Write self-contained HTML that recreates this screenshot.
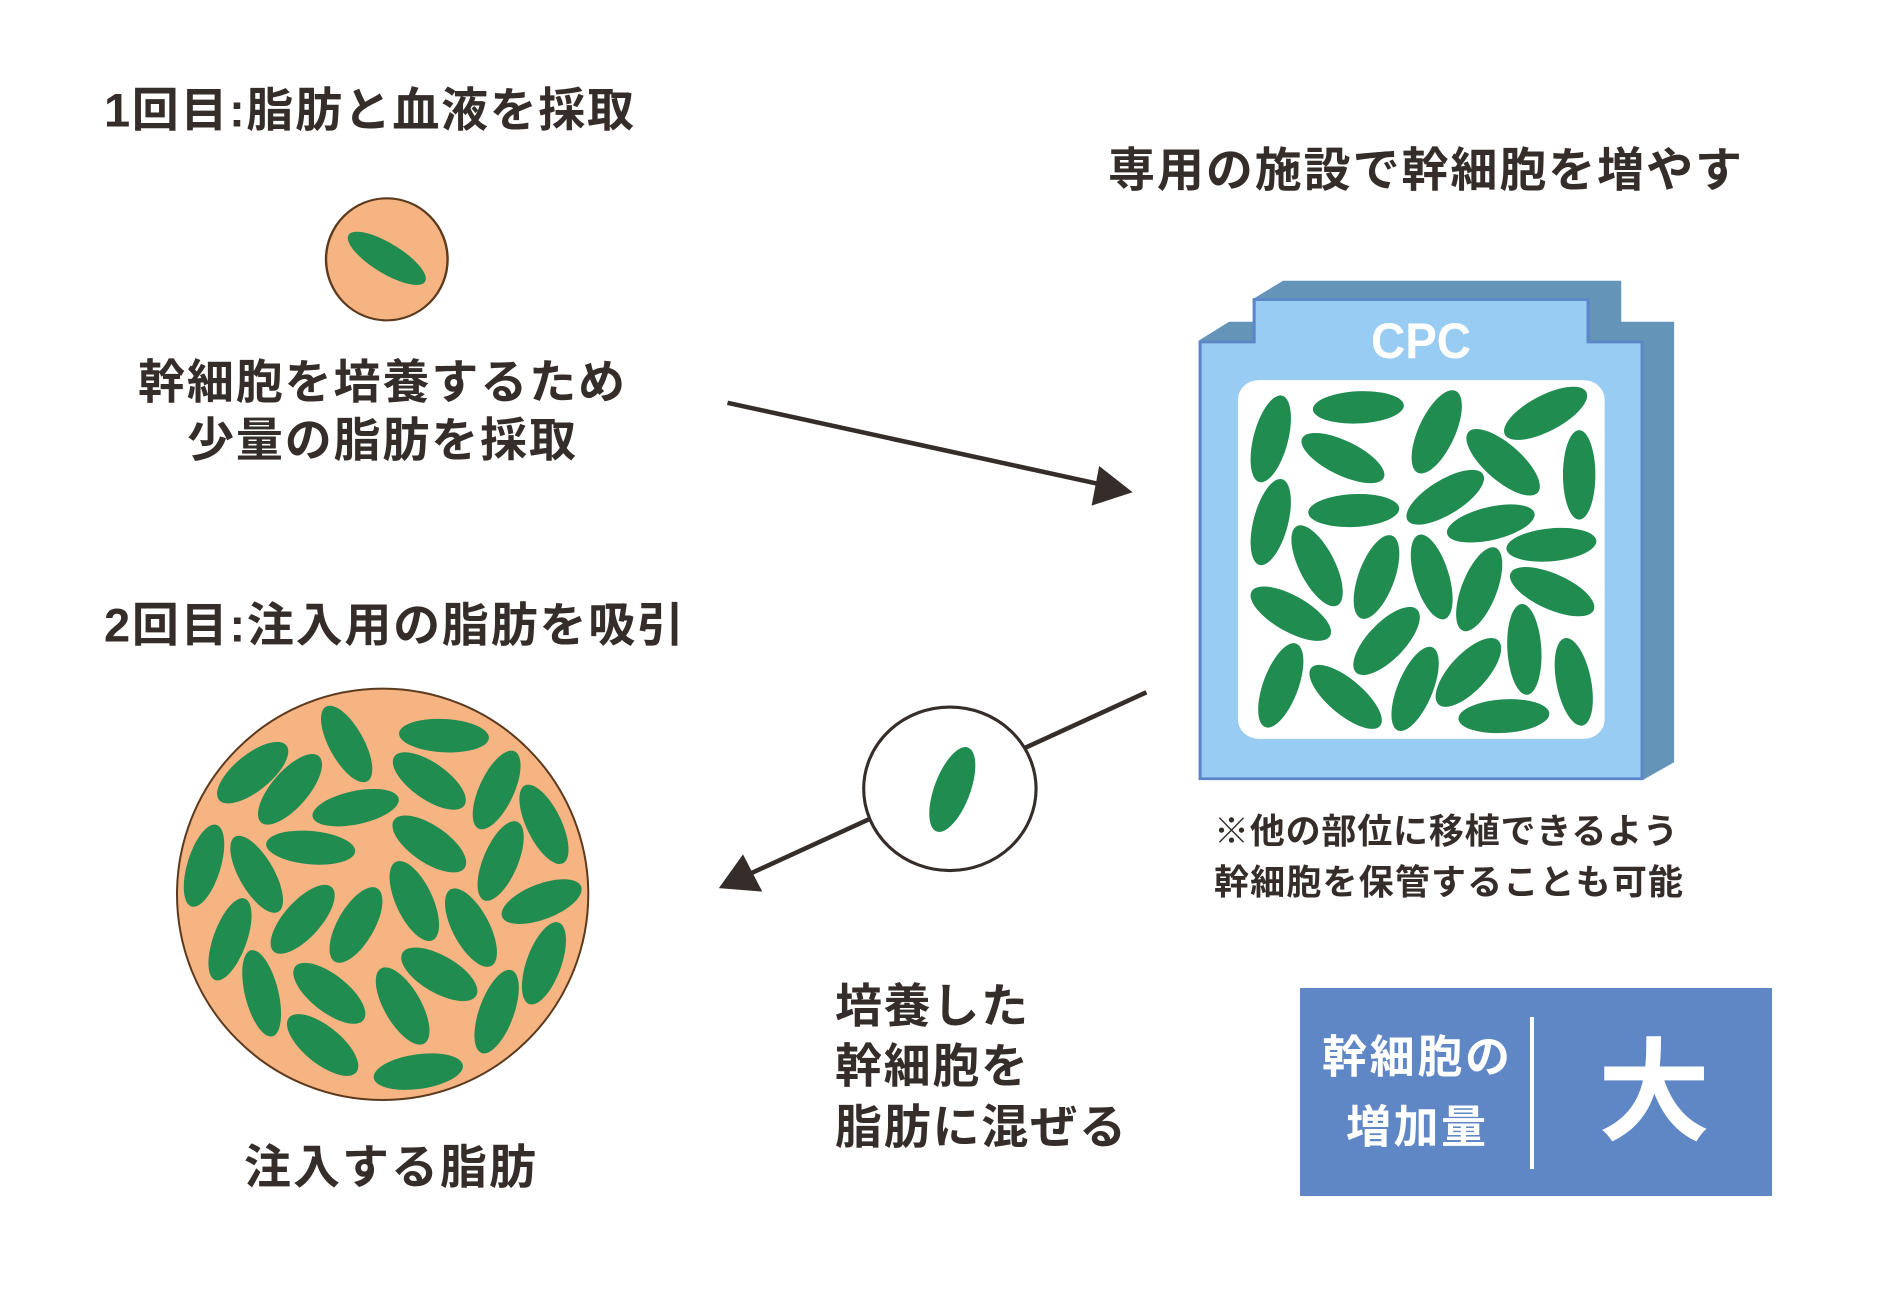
<!DOCTYPE html>
<html><head><meta charset="utf-8"><style>
html,body{margin:0;padding:0;background:#fff;}
svg{display:block;}
text{font-family:"Liberation Sans","Noto Sans CJK JP",sans-serif;font-weight:bold;}
</style></head><body>
<svg width="1900" height="1300" viewBox="0 0 1900 1300" xmlns="http://www.w3.org/2000/svg">
<rect width="1900" height="1300" fill="#fff"/>
<g fill="#352d2a" dominant-baseline="central">
<text x="104" y="110" font-size="47" textLength="530" lengthAdjust="spacing">1回目:脂肪と血液を採取</text>
<text x="1108" y="170" font-size="47" textLength="634" lengthAdjust="spacing">専用の施設で幹細胞を増やす</text>
<text x="138" y="382" font-size="47" textLength="487" lengthAdjust="spacing">幹細胞を培養するため</text>
<text x="187" y="440" font-size="47" textLength="389" lengthAdjust="spacing">少量の脂肪を採取</text>
<text x="104" y="625" font-size="47" textLength="580" lengthAdjust="spacing">2回目:注入用の脂肪を吸引</text>
<text x="244" y="1167" font-size="47" textLength="292" lengthAdjust="spacing">注入する脂肪</text>
<text x="835" y="1006" font-size="47" textLength="193" lengthAdjust="spacing">培養した</text>
<text x="835" y="1066" font-size="47" textLength="193" lengthAdjust="spacing">幹細胞を</text>
<text x="835" y="1127" font-size="47" textLength="291" lengthAdjust="spacing">脂肪に混ぜる</text>
<text x="1214" y="832" font-size="35" textLength="464" lengthAdjust="spacing">※他の部位に移植できるよう</text>
<text x="1214" y="883" font-size="35" textLength="469" lengthAdjust="spacing">幹細胞を保管することも可能</text>
</g>

<g transform="translate(80,60) scale(0.4,0.339)">
<ellipse cx="767" cy="588" rx="152" ry="180" fill="#f5b482" stroke="#5c3a1e" stroke-width="6"/>
<ellipse cx="0" cy="0" rx="118" ry="42" fill="#208c50" transform="translate(767,585) rotate(37)"/>
</g>

<g transform="translate(693,380) scale(0.3448,0.3509)">
<line x1="100" y1="65" x2="1185" y2="298" stroke="#352d2a" stroke-width="13"/>
<polygon points="1275,320 1178,245 1156,358" fill="#352d2a"/>
<line x1="1315" y1="890" x2="150" y2="1414" stroke="#352d2a" stroke-width="13"/>
<polygon points="75,1448 145,1352 201,1458" fill="#352d2a"/>
<ellipse cx="745" cy="1165" rx="250" ry="233" fill="#fff" stroke="#352d2a" stroke-width="9"/>
<ellipse cx="0" cy="0" rx="128" ry="52" fill="#208c50" transform="translate(752,1167) rotate(-69)"/>
</g>

<g transform="translate(150,660) scale(0.3333)" fill="#208c50">
<circle cx="698" cy="703" r="617" fill="#f5b482" stroke="#5c3a1e" stroke-width="6"/>
<ellipse rx="130" ry="55" transform="translate(308,338) rotate(-39)"/>
<ellipse rx="128" ry="52" transform="translate(590,252) rotate(61)"/>
<ellipse rx="135" ry="50" transform="translate(882,227) rotate(3)"/>
<ellipse rx="132" ry="55" transform="translate(420,388) rotate(-49)"/>
<ellipse rx="128" ry="55" transform="translate(838,363) rotate(35)"/>
<ellipse rx="128" ry="52" transform="translate(1040,390) rotate(-65)"/>
<ellipse rx="132" ry="50" transform="translate(617,443) rotate(-12)"/>
<ellipse rx="130" ry="52" transform="translate(1182,493) rotate(64)"/>
<ellipse rx="128" ry="50" transform="translate(162,617) rotate(-73)"/>
<ellipse rx="130" ry="52" transform="translate(320,643) rotate(60)"/>
<ellipse rx="134" ry="50" transform="translate(482,563) rotate(5)"/>
<ellipse rx="128" ry="56" transform="translate(838,552) rotate(34)"/>
<ellipse rx="128" ry="52" transform="translate(1052,603) rotate(-67)"/>
<ellipse rx="130" ry="50" transform="translate(240,838) rotate(-70)"/>
<ellipse rx="130" ry="55" transform="translate(458,778) rotate(-48)"/>
<ellipse rx="127" ry="55" transform="translate(618,795) rotate(-60)"/>
<ellipse rx="130" ry="55" transform="translate(793,723) rotate(65)"/>
<ellipse rx="130" ry="55" transform="translate(963,803) rotate(62)"/>
<ellipse rx="127" ry="53" transform="translate(1175,725) rotate(-21)"/>
<ellipse rx="133" ry="50" transform="translate(335,1000) rotate(76)"/>
<ellipse rx="130" ry="56" transform="translate(538,1000) rotate(38)"/>
<ellipse rx="128" ry="56" transform="translate(868,943) rotate(30)"/>
<ellipse rx="130" ry="55" transform="translate(758,1038) rotate(60)"/>
<ellipse rx="130" ry="52" transform="translate(1182,910) rotate(-70)"/>
<ellipse rx="132" ry="52" transform="translate(1040,1055) rotate(-70)"/>
<ellipse rx="130" ry="56" transform="translate(518,1155) rotate(39)"/>
<ellipse rx="135" ry="52" transform="translate(805,1235) rotate(-8)"/>
</g>

<g transform="translate(1148,250) scale(0.3860,0.3497)">
<polygon points="133,258 210,205 272,205 272,140 350,88 1226,88 1226,205 1363,205 1363,1465 1283,1515 133,1515" fill="#6494b8"/>
<polygon points="135,263 275,263 275,142 1140,142 1140,263 1280,263 1280,1512 135,1512" fill="#99ccf2" stroke="#5b86c8" stroke-width="8"/>
<rect x="233" y="372" width="950" height="1026" rx="55" ry="55" fill="#fff"/>
<g fill="#208c50">
<ellipse rx="127" ry="45" transform="translate(318,540) rotate(-77)"/>
<ellipse rx="118" ry="46" transform="translate(545,450) rotate(-3)"/>
<ellipse rx="120" ry="48" transform="translate(505,595) rotate(29)"/>
<ellipse rx="127" ry="48" transform="translate(748,520) rotate(-68)"/>
<ellipse rx="122" ry="50" transform="translate(1030,467) rotate(-31)"/>
<ellipse rx="125" ry="50" transform="translate(920,607) rotate(45)"/>
<ellipse rx="128" ry="42" transform="translate(1117,643) rotate(90)"/>
<ellipse rx="126" ry="45" transform="translate(318,778) rotate(-77)"/>
<ellipse rx="118" ry="47" transform="translate(533,745) rotate(-3)"/>
<ellipse rx="118" ry="48" transform="translate(770,707) rotate(-35)"/>
<ellipse rx="117" ry="47" transform="translate(888,782) rotate(-15)"/>
<ellipse rx="117" ry="47" transform="translate(1045,843) rotate(-6)"/>
<ellipse rx="125" ry="47" transform="translate(438,903) rotate(66)"/>
<ellipse rx="125" ry="47" transform="translate(592,935) rotate(-72)"/>
<ellipse rx="125" ry="45" transform="translate(735,935) rotate(75)"/>
<ellipse rx="126" ry="46" transform="translate(858,970) rotate(-71)"/>
<ellipse rx="120" ry="50" transform="translate(1047,977) rotate(27)"/>
<ellipse rx="120" ry="50" transform="translate(370,1040) rotate(33)"/>
<ellipse rx="120" ry="50" transform="translate(618,1118) rotate(-50)"/>
<ellipse rx="130" ry="44" transform="translate(975,1142) rotate(87)"/>
<ellipse rx="126" ry="46" transform="translate(344,1245) rotate(-72)"/>
<ellipse rx="122" ry="48" transform="translate(512,1278) rotate(44)"/>
<ellipse rx="127" ry="46" transform="translate(692,1255) rotate(-70)"/>
<ellipse rx="120" ry="50" transform="translate(830,1208) rotate(-51)"/>
<ellipse rx="127" ry="45" transform="translate(1103,1235) rotate(80)"/>
<ellipse rx="118" ry="48" transform="translate(922,1333) rotate(-4)"/>
</g>
</g>
<text x="1421" y="341" font-size="50" fill="#fff" text-anchor="middle" dominant-baseline="central" textLength="100" lengthAdjust="spacingAndGlyphs">CPC</text>

<rect x="1300" y="988" width="472" height="208" fill="#5f87c5"/>
<rect x="1530" y="1017" width="4" height="152" fill="#fff"/>
<g fill="#fff" dominant-baseline="central">
<text x="1322" y="1057" font-size="45" textLength="188" lengthAdjust="spacing">幹細胞の</text>
<text x="1346" y="1127" font-size="45" textLength="140" lengthAdjust="spacing">増加量</text>
<text x="1654" y="1093" font-size="112" text-anchor="middle">大</text>
</g>
</svg>
</body></html>
